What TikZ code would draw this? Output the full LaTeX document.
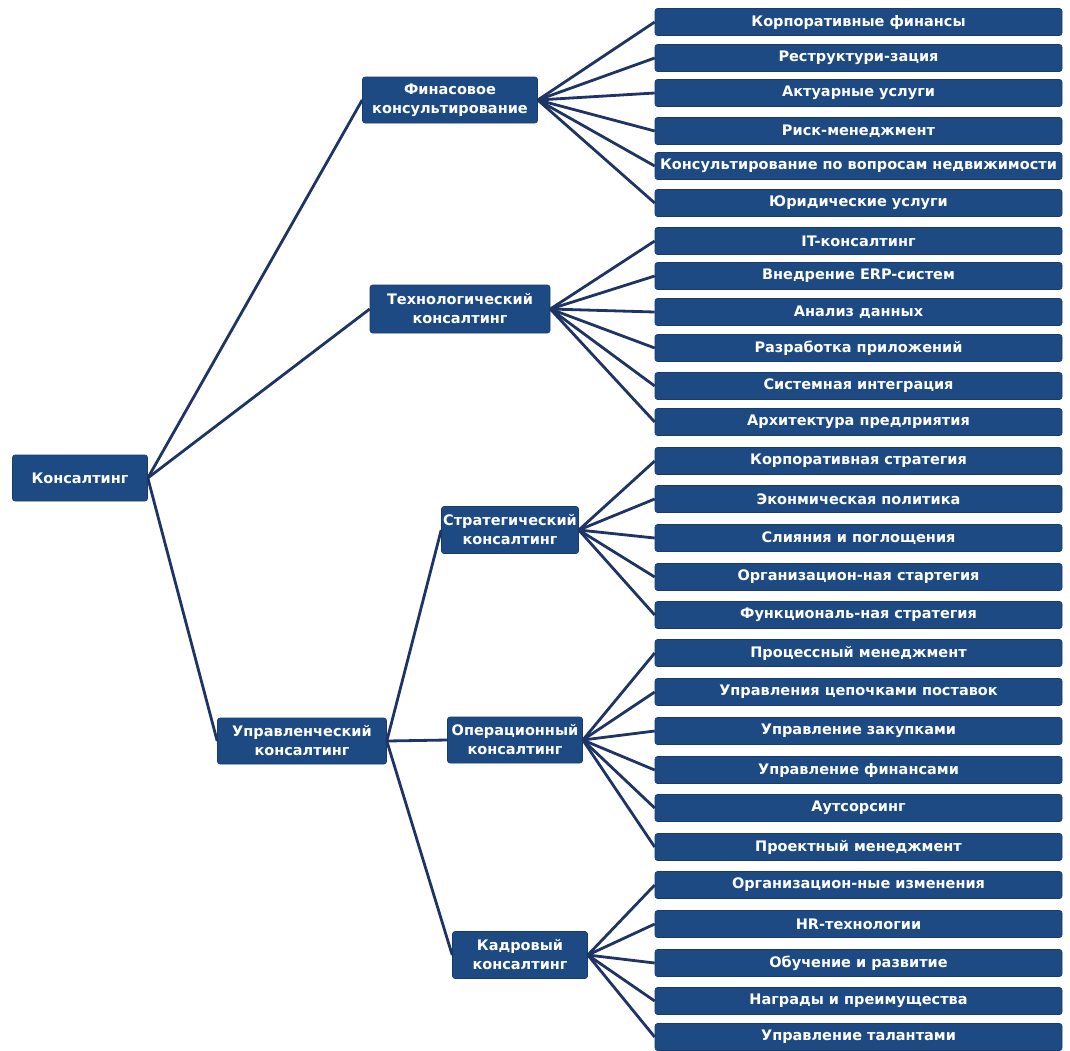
\documentclass[tikz,border=0pt]{standalone}
\usepackage{fontspec}
\setmainfont{DejaVu Sans}
\definecolor{boxblue}{RGB}{30,74,132}
\definecolor{linenavy}{RGB}{30,52,100}
\tikzset{
  x=1pt, y=-1pt,
  base/.style={draw=boxblue!80!black, line width=0.6pt, fill=boxblue, rounded corners=2.5pt, text=white,
     inner sep=0pt, align=center},
  leaf/.style={base, font=\fontsize{14.5}{18}\selectfont\bfseries, minimum width=407pt, minimum height=27pt},
  mid/.style={base, font=\fontsize{14.5}{19}\selectfont\bfseries, minimum height=46pt},
  link/.style={draw=linenavy, line width=2.8pt}
}
\begin{document}
\begin{tikzpicture}
\useasboundingbox (0,0) rectangle (1070,1050);
\node[mid, minimum width=135pt] (root) at (80,478) {Консалтинг};
\node[mid, minimum width=175pt] (fin) at (450,100) {Финасовое\\консультирование};
\node[mid, minimum width=180pt, minimum height=48pt] (tech) at (460,309) {Технологический\\консалтинг};
\node[mid, minimum width=169pt] (man) at (302,741) {Управленческий\\консалтинг};
\node[mid, minimum width=137pt, minimum height=47pt] (strat) at (510,530) {Стратегический\\консалтинг};
\node[mid, minimum width=135pt] (oper) at (515,740) {Операционный\\консалтинг};
\node[mid, minimum width=135pt, minimum height=47pt] (hr) at (520,955) {Кадровый\\консалтинг};

\foreach \n/\y/\t in {
 l1/22/Корпоративные финансы,
 l2/58/Реструктури-зация,
 l3/93/Актуарные услуги,
 l4/131/Риск-менеджмент,
 l5/166/Консультирование по вопросам недвижимости,
 l6/203/Юридические услуги,
 l7/241/IT-консалтинг,
 l8/276/Внедрение ERP-систем,
 l9/312/Анализ данных,
 l10/348/Разработка приложений,
 l11/386/Системная интеграция,
 l12/422/Архитектура предлриятия,
 l13/461/Корпоративная стратегия,
 l14/499/Эконмическая политика,
 l15/538/Слияния и поглощения,
 l16/577/Организацион-ная стартегия,
 l17/615/Функциональ-ная стратегия,
 l18/653/Процессный менеджмент,
 l19/692/Управления цепочками поставок,
 l20/731/Управление закупками,
 l21/770/Управление финансами,
 l22/808/Аутсорсинг,
 l23/847/Проектный менеджмент,
 l24/885/Организацион-ные изменения,
 l25/924/HR-технологии,
 l26/963/Обучение и развитие,
 l27/1001/Награды и преимущества,
 l28/1037/Управление талантами}
 {\node[leaf] (\n) at (858.5,\y) {\t};}

\begin{scope}[link]
\draw (root.east) -- (fin.west);
\draw (root.east) -- (tech.west);
\draw (root.east) -- (man.west);
\foreach \i in {1,...,6} \draw (fin.east) -- (l\i.west);
\foreach \i in {7,...,12} \draw (tech.east) -- (l\i.west);
\draw (man.east) -- (strat.west);
\draw (man.east) -- (oper.west);
\draw (man.east) -- (hr.west);
\foreach \i in {13,...,17} \draw (strat.east) -- (l\i.west);
\foreach \i in {18,...,23} \draw (oper.east) -- (l\i.west);
\foreach \i in {24,...,28} \draw (hr.east) -- (l\i.west);
\end{scope}
\end{tikzpicture}
\end{document}
